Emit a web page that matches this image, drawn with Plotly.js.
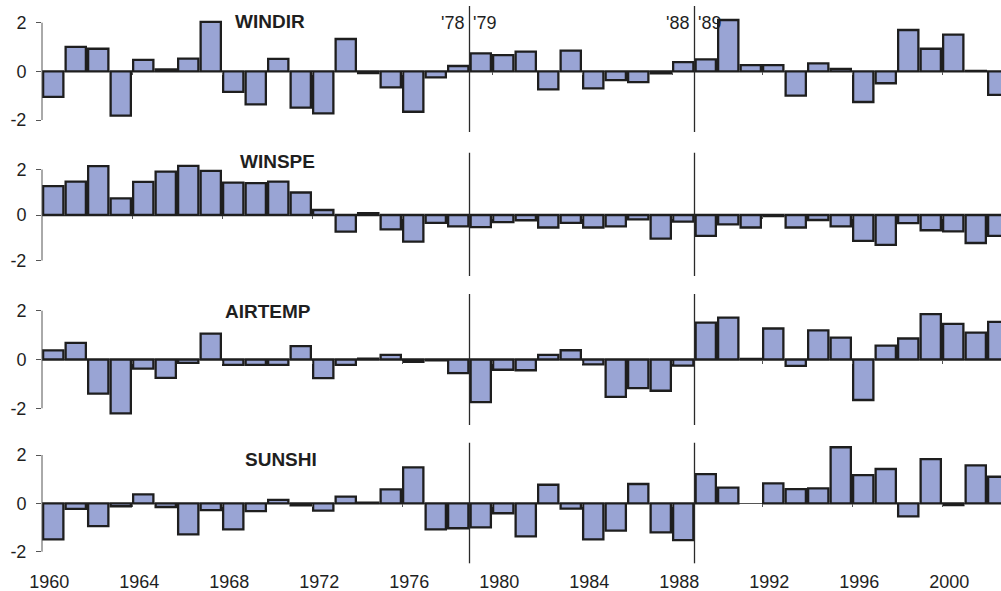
<!DOCTYPE html>
<html>
<head>
<meta charset="utf-8">
<script src="https://cdn.plot.ly/plotly-3.0.1.min.js"></script>
<style>
  html, body { margin: 0; padding: 0; background: #fff; }
  #chart { width: 1001px; height: 591px; }
</style>
</head>
<body>
<div id="chart"></div>
<script>
// ---------------- DATA ----------------
const years = [1960,1961,1962,1963,1964,1965,1966,1967,1968,1969,
               1970,1971,1972,1973,1974,1975,1976,1977,1978,1979,
               1980,1981,1982,1983,1984,1985,1986,1987,1988,1989,
               1990,1991,1992,1993,1994,1995,1996,1997,1998,1999,
               2000,2001,2002];

const tickYears = [1960,1964,1968,1972,1976,1980,1984,1988,1992,1996,2000];
const tickLabels = ['1960','1964','1968','1972','1976','1980','1984','1988','1992','1996','2000'];

const panelNames = ['WINDIR','WINSPE','AIRTEMP','SUNSHI'];

const windir = [-1.05, 1.01, 0.93, -1.82, 0.47, 0.08, 0.52, 2.03, -0.84, -1.36,
                 0.51, -1.49, -1.73, 1.33, -0.07, -0.66, -1.66, -0.25, 0.22, 0.74,
                 0.67, 0.81, -0.74, 0.85, -0.70, -0.36, -0.44, -0.08, 0.38, 0.49,
                 2.11, 0.26, 0.26, -1.00, 0.33, 0.10, -1.26, -0.49, 1.70, 0.93,
                 1.51, 0.02, -0.97];

const winspe = [1.27, 1.47, 2.15, 0.73, 1.46, 1.91, 2.16, 1.94, 1.42, 1.40,
                1.47, 0.99, 0.22, -0.73, 0.08, -0.63, -1.17, -0.35, -0.50, -0.53,
                -0.31, -0.23, -0.55, -0.35, -0.55, -0.50, -0.19, -1.04, -0.29, -0.92,
                -0.41, -0.55, -0.05, -0.55, -0.22, -0.50, -1.14, -1.31, -0.36, -0.67,
                -0.72, -1.23, -0.92];

const airtemp = [0.37, 0.68, -1.40, -2.21, -0.37, -0.75, -0.14, 1.06, -0.22, -0.22,
                 -0.22, 0.55, -0.76, -0.22, 0.03, 0.19, -0.10, -0.03, -0.56, -1.75,
                 -0.42, -0.44, 0.19, 0.38, -0.20, -1.53, -1.17, -1.28, -0.25, 1.51,
                 1.72, 0.02, 1.27, -0.26, 1.19, 0.90, -1.66, 0.57, 0.86, 1.86,
                 1.46, 1.10, 1.54];

const sunshi = [-1.49, -0.23, -0.94, -0.12, 0.37, -0.15, -1.28, -0.28, -1.08, -0.32,
                0.14, -0.08, -0.30, 0.28, 0.03, 0.58, 1.49, -1.08, -1.03, -0.99,
                -0.41, -1.37, 0.77, -0.22, -1.49, -1.13, 0.80, -1.20, -1.52, 1.21,
                0.65, null, 0.83, 0.59, 0.62, 2.32, 1.17, 1.42, -0.54, 1.83,
                -0.07, 1.57, 1.10];

const seriesList = [windir, winspe, airtemp, sunshi];

const breakYears = [1978.5, 1988.5];
const breakLabelsLeft = ["'78", "'88"];
const breakLabelsRight = ["'79", "'89"];

const yTickVals = [-2, 0, 2];
const yTickText = ['-2', '0', '2'];
const yAxisSpan = [-2, 2];

// ---------------- LAYOUT / STYLE ----------------
const W = 1001, H = 591, L = 42;
const PX_PER_YEAR = 22.5;
const xRange = [1959.5, 1959.5 + (W - L) / PX_PER_YEAR];
const R = 2.8; // visible half-range of each panel

// pixel geometry of each panel (top = y of "2" tick, bottom = y of "-2" tick)
const panelPx = [
  {top: 22.7,  bottom: 120.0, lineTop: 6,     lineBot: 132,   tx: 270,   ty: 22},
  {top: 169.5, bottom: 260.5, lineTop: 152.7, lineBot: 276,   tx: 277.5, ty: 162},
  {top: 310.7, bottom: 408.3, lineTop: 294,   lineBot: 425,   tx: 268,   ty: 311.7},
  {top: 455.0, bottom: 551.7, lineTop: 442.7, lineBot: 563.3, tx: 280.5, ty: 459.3}
];

const FONT = 'Liberation Sans, Arial, Helvetica, sans-serif';
const TEXT_COLOR = '#1f1f1f';
const AXIS_COLOR = '#555555';
const BAR_FILL = '#99a4d4';
const BAR_LINE = '#1e1e1e';

const boundaryTicks = tickYears.slice(1).map(y => y - 0.5);
const labelPos = tickYears.map(y => y - 0.18);

const traces = [];
const layout = {
  width: W, height: H,
  margin: {l: L, r: 0, t: 0, b: 0, pad: 0},
  paper_bgcolor: '#ffffff',
  plot_bgcolor: 'rgba(0,0,0,0)',
  showlegend: false,
  bargap: 0.1,
  font: {family: FONT, size: 18, color: TEXT_COLOR},
  shapes: [],
  annotations: []
};

panelPx.forEach((p, i) => {
  const n = i === 0 ? '' : String(i + 1);
  const u = (p.bottom - p.top) / 4;         // px per unit
  const zeroPx = (p.top + p.bottom) / 2;
  const topPx = zeroPx - R * u, botPx = zeroPx + R * u;
  const d0 = 1 - botPx / H, d1 = 1 - topPx / H;
  const zeroPos = (d0 + d1) / 2;
  const isLast = i === panelPx.length - 1;

  traces.push({
    type: 'bar',
    x: years,
    y: seriesList[i],
    xaxis: 'x' + n,
    yaxis: 'y' + n,
    marker: {color: BAR_FILL, line: {color: BAR_LINE, width: 2.3}},
    hoverinfo: 'x+y'
  });

  layout['xaxis' + n] = {
    range: xRange,
    anchor: 'free',
    position: zeroPos,
    showline: false,
    showgrid: false,
    zeroline: false,
    tickmode: 'array',
    tickvals: labelPos,
    ticktext: tickLabels,
    ticks: '',
    showticklabels: isLast,
    ticklabelstandoff: 66,
    tickfont: {family: FONT, size: 18, color: TEXT_COLOR},
    minor: {
      tickmode: 'array',
      tickvals: boundaryTicks,
      ticks: 'outside',
      ticklen: 3,
      tickwidth: 1,
      tickcolor: AXIS_COLOR,
      showgrid: false
    },
    fixedrange: true
  };

  layout['yaxis' + n] = {
    domain: [d0, d1],
    range: [-R, R],
    anchor: 'x' + n,
    showline: false,
    showgrid: false,
    zeroline: true,
    zerolinecolor: AXIS_COLOR,
    zerolinewidth: 1,
    tickmode: 'array',
    tickvals: yTickVals,
    ticktext: yTickText,
    ticks: 'outside',
    ticklen: 5,
    tickwidth: 1,
    tickcolor: AXIS_COLOR,
    ticklabelstandoff: 6,
    tickfont: {family: FONT, size: 18, color: TEXT_COLOR},
    fixedrange: true
  };

  // y axis line only across the -2..2 span
  layout.shapes.push({
    type: 'line', xref: 'x' + n + ' domain', yref: 'y' + n,
    x0: 0, x1: 0, y0: yAxisSpan[0], y1: yAxisSpan[1],
    line: {color: AXIS_COLOR, width: 1},
    layer: 'above'
  });

  // vertical break lines
  const lo = (zeroPx - p.lineBot) / u;
  const hi = (zeroPx - p.lineTop) / u;
  breakYears.forEach(b => {
    layout.shapes.push({
      type: 'line', xref: 'x' + n, yref: 'y' + n,
      x0: b, x1: b, y0: lo, y1: hi,
      line: {color: '#2a2a2a', width: 1.3},
      layer: 'above'
    });
  });

  // panel title
  layout.annotations.push({
    text: '<b>' + panelNames[i] + '</b>',
    xref: 'paper', yref: 'paper',
    x: (p.tx - L) / (W - L), y: 1 - p.ty / H,
    xanchor: 'center', yanchor: 'middle',
    showarrow: false,
    font: {family: FONT, size: 19, color: TEXT_COLOR}
  });
});

// break labels at the top
breakYears.forEach((b, k) => {
  layout.annotations.push({
    text: breakLabelsLeft[k], xref: 'x', yref: 'paper',
    x: b, y: 1 - 23 / H, xanchor: 'right', yanchor: 'middle',
    xshift: -4, showarrow: false,
    font: {family: FONT, size: 18, color: TEXT_COLOR}
  });
  layout.annotations.push({
    text: breakLabelsRight[k], xref: 'x', yref: 'paper',
    x: b, y: 1 - 23 / H, xanchor: 'left', yanchor: 'middle',
    xshift: 1, showarrow: false,
    font: {family: FONT, size: 18, color: TEXT_COLOR}
  });
});

Plotly.newPlot('chart', traces, layout, {displayModeBar: false, staticPlot: true});
</script>
</body>
</html>
